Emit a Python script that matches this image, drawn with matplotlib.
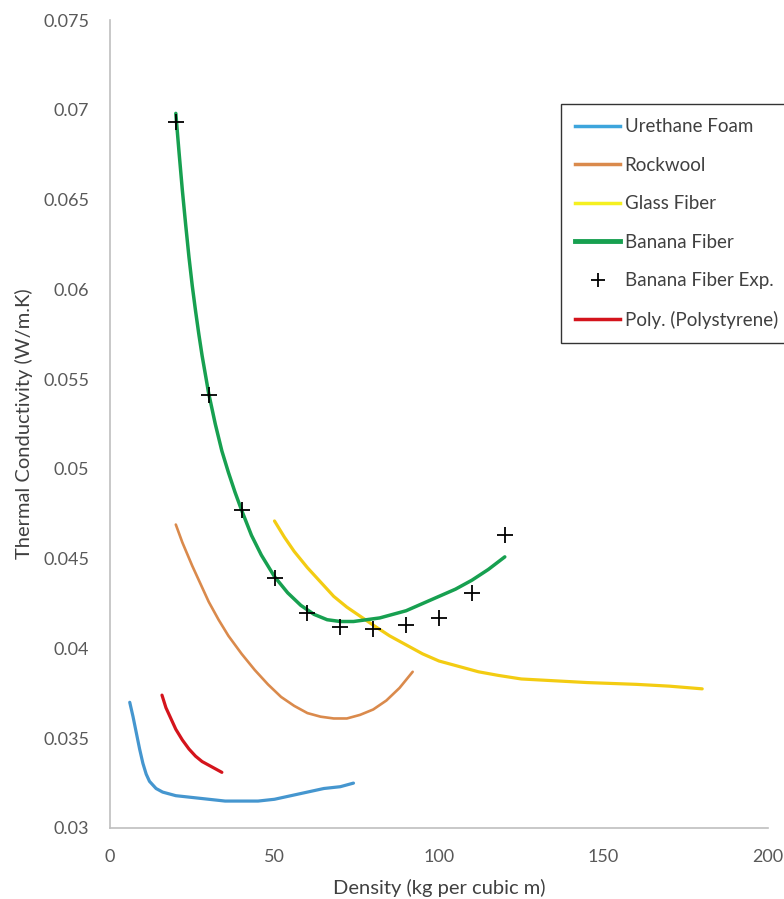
import matplotlib
matplotlib.use("Agg")
import matplotlib.pyplot as plt
from matplotlib.lines import Line2D

plt.rcParams['font.family'] = ['Lato', 'DejaVu Sans']

# Data
urethane_x = [6, 7, 8, 9, 10, 11, 12, 14, 16, 20, 25, 30, 35, 40, 45, 50, 55, 60, 65, 70, 74]
urethane_y = [0.0370, 0.0362, 0.0353, 0.0344, 0.0336, 0.0330, 0.0326, 0.0322, 0.0320, 0.0318, 0.0317,
              0.0316, 0.0315, 0.0315, 0.0315, 0.0316, 0.0318, 0.0320, 0.0322, 0.0323, 0.0325]

rockwool_x = [20, 22, 25, 28, 30, 33, 36, 40, 44, 48, 52, 56, 60, 64, 68, 72, 76, 80, 84, 88, 92]
rockwool_y = [0.0469, 0.0459, 0.0446, 0.0434, 0.0426, 0.0416, 0.0407, 0.0397, 0.0388, 0.0380, 0.0373,
              0.0368, 0.0364, 0.0362, 0.0361, 0.0361, 0.0363, 0.0366, 0.0371, 0.0378, 0.0387]

glass_x = [50, 53, 56, 60, 64, 68, 72, 76, 80, 85, 90, 95, 100, 106, 112, 118, 125, 135, 145, 160, 170, 180]
glass_y = [0.0471, 0.0462, 0.0454, 0.0445, 0.0437, 0.0429, 0.0423, 0.0418, 0.0413, 0.0407, 0.0402, 0.0397,
           0.0393, 0.0390, 0.0387, 0.0385, 0.0383, 0.0382, 0.0381, 0.0380, 0.0379, 0.03775]

banana_x = [20, 21, 22, 23, 24, 25, 26, 27, 28, 30, 32, 34, 36, 38, 40, 43, 46, 50, 54, 58, 62, 66,
            70, 74, 78, 82, 86, 90, 95, 100, 105, 110, 115, 120]
banana_y = [0.0698, 0.0676, 0.0655, 0.0636, 0.0618, 0.0602, 0.0588, 0.0575, 0.0563, 0.0542, 0.0525,
            0.0510, 0.0498, 0.0487, 0.0477, 0.0463, 0.0452, 0.0440, 0.0431, 0.0424, 0.0419, 0.0416,
            0.0415, 0.0415, 0.0416, 0.0417, 0.0419, 0.0421, 0.0425, 0.0429, 0.0433, 0.0438, 0.0444, 0.0451]

exp_x = [20, 30, 40, 50, 60, 70, 80, 90, 100, 110, 120]
exp_y = [0.0693, 0.0541, 0.0477, 0.0439, 0.0420, 0.0412, 0.0411, 0.0413, 0.0417, 0.0431, 0.0463]

poly_x = [15.8, 17, 18, 19, 20, 22, 24, 26, 28, 30, 32, 34]
poly_y = [0.0374, 0.0367, 0.0363, 0.0359, 0.0355, 0.0349, 0.0344, 0.0340, 0.0337, 0.0335, 0.0333, 0.0331]

x_ticks = [0, 50, 100, 150, 200]
y_ticks = [0.03, 0.035, 0.04, 0.045, 0.05, 0.055, 0.06, 0.065, 0.07, 0.075]
y_ticklabels = ['0.03', '0.035', '0.04', '0.045', '0.05', '0.055', '0.06', '0.065', '0.07', '0.075']

labels = ['Urethane Foam', 'Rockwool', 'Glass Fiber', 'Banana Fiber', 'Banana Fiber Exp.', 'Poly. (Polystyrene)']

c_blue = '#4596CF'
c_orange = '#DA8A4C'
c_yellow = '#F3CC12'
c_green = '#17A050'
c_red = '#D4141C'

fig = plt.figure(figsize=(7.84, 8.99), dpi=100)
ax = fig.add_axes([110/784, 1-828/899, 658/784, 808/899])

ax.plot(urethane_x, urethane_y, color=c_blue, lw=2.3, solid_capstyle='round', solid_joinstyle='round')
ax.plot(rockwool_x, rockwool_y, color=c_orange, lw=1.9, solid_capstyle='round', solid_joinstyle='round')
ax.plot(glass_x, glass_y, color=c_yellow, lw=2.3, solid_capstyle='round', solid_joinstyle='round')
ax.plot(banana_x, banana_y, color=c_green, lw=2.5, solid_capstyle='round', solid_joinstyle='round')
ax.plot(exp_x, exp_y, linestyle='none', marker='+', color='black', ms=12, mew=1.3)
ax.plot(poly_x, poly_y, color=c_red, lw=2.3, solid_capstyle='round', solid_joinstyle='round')

ax.set_xlim(0, 200)
ax.set_ylim(0.03, 0.075)
ax.set_xticks(x_ticks)
ax.set_yticks(y_ticks)
ax.set_yticklabels(y_ticklabels)

for s in ['top', 'right']:
    ax.spines[s].set_visible(False)
for s in ['left', 'bottom']:
    ax.spines[s].set_color('#BFBFBF')
    ax.spines[s].set_linewidth(1.2)
ax.tick_params(axis='both', length=0, labelsize=13, colors='#595959')
ax.tick_params(axis='y', pad=15)
ax.tick_params(axis='x', pad=15)

ax.set_xlabel('Density (kg per cubic m)', fontsize=14.5, color='#404040', labelpad=10)
ax.set_ylabel('Thermal Conductivity (W/m.K)', fontsize=14.5, color='#404040', labelpad=7)

handles = [
    Line2D([], [], color='#3DA5DC', lw=2.5),
    Line2D([], [], color=c_orange, lw=2.5),
    Line2D([], [], color='#F5F020', lw=2.5),
    Line2D([], [], color=c_green, lw=3.5),
    Line2D([], [], linestyle='none', marker='+', color='black', ms=10, mew=1.3),
    Line2D([], [], color=c_red, lw=2.5),
]
leg = fig.legend(handles, labels, loc='upper left', bbox_to_anchor=(561/784, 1-104/899),
                 frameon=True, fancybox=False, edgecolor='black', fontsize=13.5,
                 handlelength=2.4, handletextpad=0.25, labelspacing=1.15,
                 borderpad=0.75, borderaxespad=0)
leg.get_frame().set_linewidth(1.0)
for t in leg.get_texts():
    t.set_color('#404040')

fig.savefig('out.png', dpi=100)
